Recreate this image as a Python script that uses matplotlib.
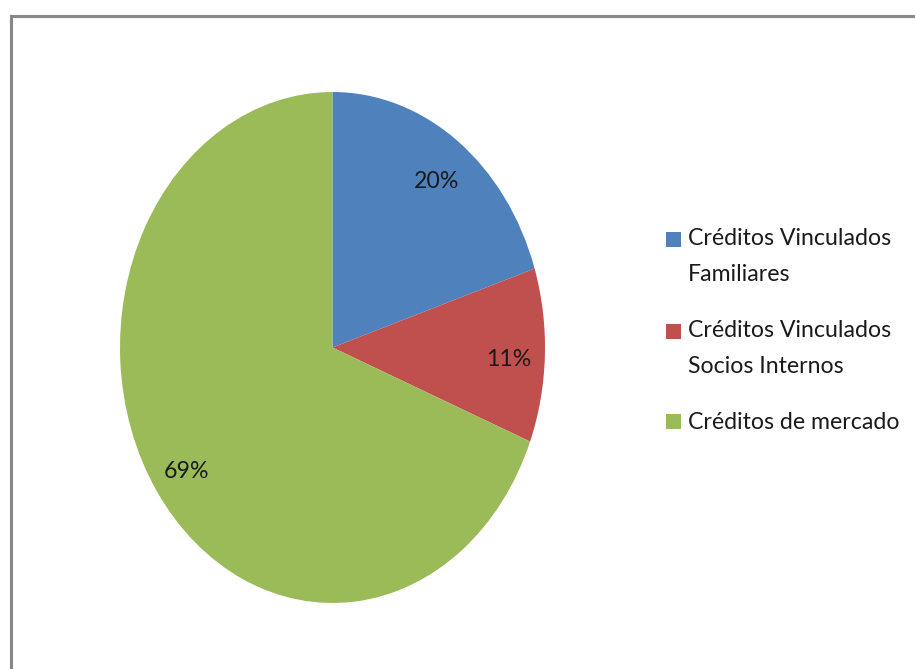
import matplotlib
matplotlib.use("Agg")
import matplotlib.pyplot as plt
from matplotlib.lines import Line2D
from matplotlib.patches import Rectangle
from matplotlib.legend_handler import HandlerPatch

categories = ["Créditos Vinculados\nFamiliares",
              "Créditos Vinculados\nSocios Internos",
              "Créditos de mercado"]
shares = [20, 11, 69]
colors = ["#4F81BD", "#C0504D", "#9BBB59"]

plt.rcParams["font.family"] = ["Lato", "DejaVu Sans"]

W, H = 915, 669
FS = 16.7        # text size in points
LINESP = 1.86    # line spacing inside a legend entry
PITCH_PT = 25.2  # resulting line pitch, points

fig = plt.figure(figsize=(W / 100, H / 100), dpi=100)

# pie area (slightly taller than wide)
left, right, top, bottom = 120, 545, 92, 603
ax = fig.add_axes([left / W, 1 - bottom / H, (right - left) / W, (bottom - top) / H])
wedges, texts, autotexts = ax.pie(
    shares, colors=colors, startangle=90, counterclock=False,
    autopct=lambda p: f"{p:.0f}%", pctdistance=0.83,
    textprops=dict(fontsize=FS, color="#1a1a1a"),
    wedgeprops=dict(linewidth=0),
)
for t in autotexts:
    x, y = t.get_position()
    t.set_position((x, y - 0.02))
ax.set_aspect("auto")
ax.set_xlim(-1, 1)
ax.set_ylim(-1, 1)
ax.axis("off")

# legend squares sit beside the first line of each label
extra_lines = {id(w): c.count("\n") for w, c in zip(wedges, categories)}


def square(legend, orig_handle, xdescent, ydescent, width, height, fontsize):
    shift = extra_lines[id(orig_handle)] * 0.5 * PITCH_PT
    side = min(width, height)
    return Rectangle((-xdescent, -ydescent + shift), side, side)


leg = fig.legend(wedges, categories, loc="upper left",
                 bbox_to_anchor=(666 / W, 1 - 228 / H), frameon=False,
                 fontsize=FS, handlelength=0.63, handleheight=0.63,
                 handletextpad=0.3, labelspacing=1.53, labelcolor="#1a1a1a",
                 borderaxespad=0, borderpad=0,
                 handler_map={type(wedges[0]): HandlerPatch(patch_func=square)})
for t in leg.get_texts():
    t.set_linespacing(LINESP)

# chart frame
fig.add_artist(Line2D([10.5 / W, 10.5 / W], [0, 1 - 16 / H], transform=fig.transFigure,
                      color="#888888", linewidth=2.2))
fig.add_artist(Line2D([10.5 / W, 1], [1 - 16 / H, 1 - 16 / H], transform=fig.transFigure,
                      color="#888888", linewidth=2.2))

fig.savefig("out.png", dpi=100)
